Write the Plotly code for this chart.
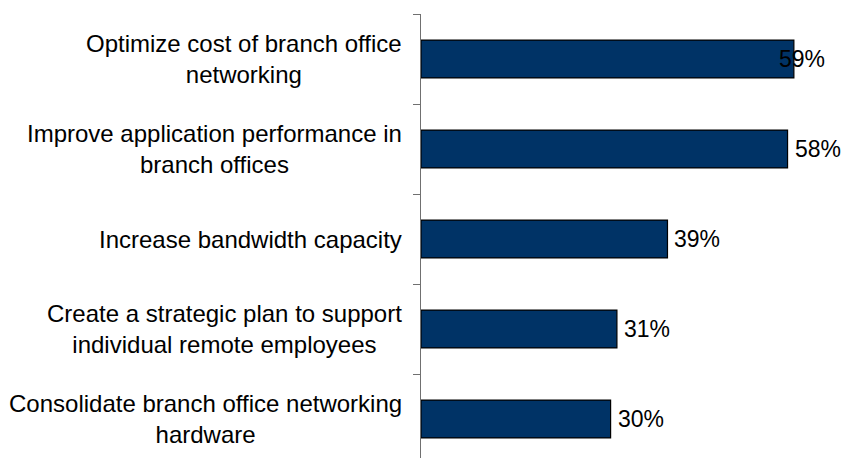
import plotly.graph_objects as go

# Survey responses, top to bottom
categories = [
    "Optimize cost of branch office<br>networking",
    "Improve application performance in<br>branch offices",
    "Increase bandwidth capacity",
    "Create a strategic plan to support<br>individual remote employees",
    "Consolidate branch office networking<br>hardware",
]
values = [59, 58, 39, 31, 30]
value_labels = ["59%", "58%", "39%", "31%", "30%"]

BAR_COLOR = "#003366"
FONT = "Liberation Sans, Arial, sans-serif"
PX_PER_UNIT = 6.32    # horizontal scale of the plotting area
PLOT_LEFT = 421
PLOT_RIGHT = 826
FIG_W = 842
X_MAX = (PLOT_RIGHT - PLOT_LEFT) / PX_PER_UNIT
CHART_EDGE = (FIG_W - PLOT_LEFT) / PX_PER_UNIT
LABEL_GAP_PX = 7
LABEL_W_PX = 45

positions = list(range(len(categories)))

fig = go.Figure()
fig.add_trace(
    go.Bar(
        x=values,
        y=positions,
        orientation="h",
        width=0.42,
        marker=dict(color=BAR_COLOR, line=dict(color="#000000", width=1.2)),
        hoverinfo="skip",
        showlegend=False,
    )
)

annotations = []
# Category labels to the left of the axis
for pos, cat in zip(positions, categories):
    annotations.append(
        dict(
            x=0, xref="paper", y=pos, yref="y",
            text=cat, showarrow=False,
            xanchor="right", yanchor="middle", align="center",
            xshift=-17,
            font=dict(family=FONT, size=24, color="#000000"),
        )
    )

# Value labels just past the bar end; a label that would run off the chart
# is pulled back against the right edge of the plotting area
for pos, v, lab in zip(positions, values, value_labels):
    end = v + (LABEL_GAP_PX + LABEL_W_PX) / PX_PER_UNIT
    if end > CHART_EDGE:
        annotations.append(
            dict(x=X_MAX, xref="x", y=pos, yref="y", text=lab, showarrow=False,
                 xanchor="right", yanchor="middle", xshift=1,
                 font=dict(family=FONT, size=23, color="#000000"))
        )
    else:
        annotations.append(
            dict(x=v, xref="x", y=pos, yref="y", text=lab, showarrow=False,
                 xanchor="left", yanchor="middle", xshift=LABEL_GAP_PX - 2,
                 font=dict(family=FONT, size=23, color="#000000"))
        )

boundaries = [p - 0.5 for p in positions] + [positions[-1] + 0.5]

fig.update_layout(
    width=FIG_W,
    height=458,
    margin=dict(l=PLOT_LEFT, r=FIG_W - PLOT_RIGHT, t=14, b=0),
    paper_bgcolor="#ffffff",
    plot_bgcolor="#ffffff",
    annotations=annotations,
    xaxis=dict(
        range=[0, X_MAX],
        visible=False,
        fixedrange=True,
    ),
    yaxis=dict(
        range=[4.5 - 6 / 90, -0.5],
        tickvals=boundaries,
        ticktext=[""] * len(boundaries),
        ticks="outside",
        ticklen=7,
        tickwidth=1,
        tickcolor="#707070",
        showline=True,
        linecolor="#707070",
        linewidth=1,
        showgrid=False,
        zeroline=False,
        fixedrange=True,
    ),
)

fig.write_html("out.html")
